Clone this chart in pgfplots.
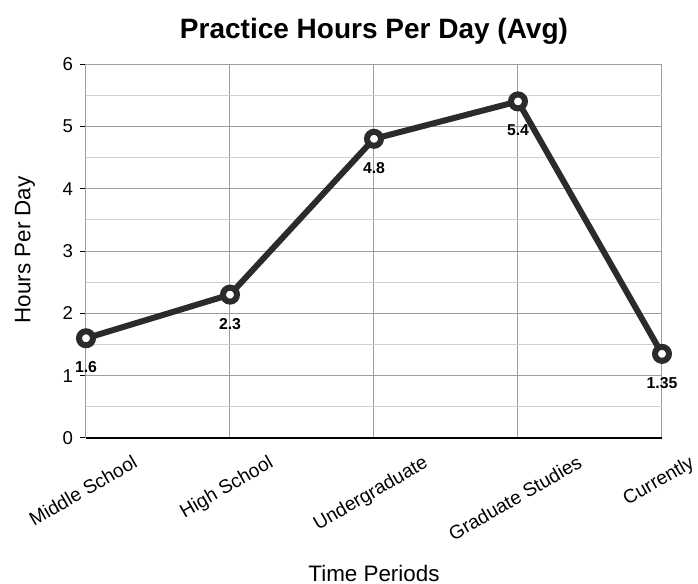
\documentclass[border=0pt]{standalone}
\usepackage{graphicx}
\usepackage{pgfplots}
\pgfplotsset{compat=1.18}
\usepackage{fontspec}
\setmainfont{Liberation Sans}
\definecolor{lineC}{HTML}{2B2B2B}
\begin{document}
\begin{tikzpicture}
\begin{axis}[
  scale only axis,
  width=288pt, height=187pt,
  xmin=0, xmax=4, ymin=0, ymax=6,
  xtick={0,1,2,3,4},
  xticklabels={\rotatebox{30}{Middle School}, \rotatebox{30}{High School}, \rotatebox{30}{Undergraduate}, \rotatebox{30}{Graduate Studies}, \rotatebox{30}{Currently}},
  ytick={0,1,2,3,4,5,6},
  minor ytick={0.5,1.5,2.5,3.5,4.5,5.5},
  grid=both,
  major grid style={draw=black!38, line width=0.5pt},
  minor grid style={draw=black!18, line width=0.6pt},
  axis x line*=bottom, axis y line*=left,
  x axis line style={-, draw=black, line width=1pt},
  y axis line style={-, draw=black!38, line width=0.5pt},
  tick align=outside,
  major tick length=3pt,
  minor tick length=0pt,
  xtick style={draw=none},
  ytick style={draw=black, line width=0.5pt},
  /pgf/number format/assume math mode=true,
  yticklabel style={font=\fontsize{9.3}{10}\selectfont, xshift=0pt},
  xticklabel style={inner sep=0pt, anchor=north, xshift=-1.5pt, yshift=-5pt, font=\fontsize{9.6}{10}\selectfont},
  title={Practice Hours Per Day (Avg)},
  title style={at={(axis description cs:0.5,1)}, anchor=center, yshift=10.5pt, font=\fontsize{14}{15}\selectfont\bfseries},
  xlabel={Time Periods},
  xlabel style={at={(axis description cs:0.5,-0.362)}, anchor=center, font=\fontsize{11.2}{12}\selectfont},
  ylabel={Hours Per Day},
  ylabel style={at={(axis description cs:-0.106,0.503)}, anchor=center, font=\fontsize{11.2}{12}\selectfont},
  clip=false,
]
\addplot[color=lineC, line width=3pt, mark=*, mark size=3.5pt,
  mark options={fill=white, draw=lineC, line width=3pt},
  nodes near coords,
  nodes near coords style={anchor=center, yshift=-14.5pt, text=black, font=\fontsize{7.9}{9}\selectfont\bfseries},
] coordinates {(0,1.6) (1,2.3) (2,4.8) (3,5.4) (4,1.35)};
\end{axis}
\pgfresetboundingbox
\path (-43pt,-73pt) rectangle ++(349pt,292pt);
\end{tikzpicture}
\end{document}
